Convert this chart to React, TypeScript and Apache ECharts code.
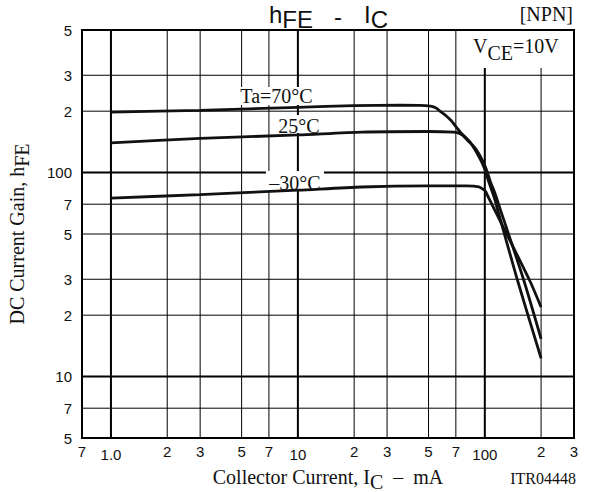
import React, { useEffect, useRef } from 'react';
import * as echarts from 'echarts';

// Axis ticks and labels
const xTicks = [0.7, 1, 2, 3, 5, 7, 10, 20, 30, 50, 70, 100, 200, 300];
const xTickLabels = ['7', '1.0', '2', '3', '5', '7', '10', '2', '3', '5', '7', '100', '2', '3'];
const xMajor = [1, 10, 100];
const yTicks = [5, 7, 10, 20, 30, 50, 70, 100, 200, 300, 500];
const yTickLabels = ['5', '7', '10', '2', '3', '5', '7', '100', '2', '3', '5'];
const yMajor = [10, 100];

// Ta = 70°C
const ic70 = [1, 3, 10, 20, 35, 48, 52, 55, 58, 62, 66, 74, 84, 91, 97, 101, 105, 112, 117, 149, 200];
const hfe70 = [198, 202, 209, 213, 214, 213, 211, 207, 199, 190, 180, 158, 140, 124, 111, 101, 90, 76, 66, 30, 12.3];
// Ta = 25°C
const ic25 = [1, 3, 10, 22, 50, 68, 72, 76, 80.5, 89, 97, 103, 107, 114, 121, 161, 200];
const hfe25 = [140, 147, 153, 158, 159, 158, 156.5, 152.5, 144.5, 131.5, 115, 101, 90.5, 78, 66, 30, 15.3];
// Ta = -30°C
const icM30 = [1, 3, 10, 22, 50, 80, 93, 99, 101, 105, 109.5, 174, 200];
const hfeM30 = [75, 78, 82, 85, 86, 86, 85, 82.3, 80.8, 75, 69.5, 29.5, 21.9];

const SERIF = '"Liberation Serif", "Times New Roman", serif';
const SANS = '"Liberation Sans", Arial, sans-serif';

const X_MIN = 0.7;
const X_MAX = 300;
const Y_MIN = 5;
const Y_MAX = 500;

const same = (a: number, b: number) => Math.abs(Math.log10(a) - Math.log10(b)) < 1e-6;

export default function App() {
  const ref = useRef<HTMLDivElement>(null);
  useEffect(() => {
    if (!ref.current) return;
    const chart = echarts.init(ref.current, undefined, { renderer: 'svg' });

    const curve = (xs: number[], ys: number[], name: string) => ({
      type: 'line',
      name,
      data: xs.map((x, i) => [x, ys[i]]),
      showSymbol: false,
      symbol: 'none',
      smooth: 0.25,
      z: 10,
      lineStyle: { color: '#111', width: 2.8 },
    });

    const sub = (pad: number, size: number, family: string) => ({
      fontFamily: family,
      fontSize: size,
      color: '#111',
      padding: [pad, 0, 0, 0],
    });

    // grid lines, one small line series per tick value
    const gridLine = (pts: number[][], major: boolean) => ({
      type: 'line',
      data: pts,
      showSymbol: false,
      symbol: 'none',
      silent: true,
      z: 2,
      lineStyle: { color: '#000', width: major ? 2 : 1, type: 'solid' },
      emphasis: { disabled: true },
    });
    const gridSeries: any[] = [];
    xTicks.slice(1, -1).forEach((v) => {
      gridSeries.push(gridLine([[v, Y_MIN], [v, Y_MAX]], xMajor.some((m) => same(m, v))));
    });
    yTicks.slice(1, -1).forEach((v) => {
      gridSeries.push(gridLine([[X_MIN, v], [X_MAX, v]], yMajor.some((m) => same(m, v))));
    });

    chart.setOption({
      animation: false,
      backgroundColor: '#fff',
      grid: {
        left: 82,
        top: 30,
        width: 492,
        height: 408,
        outerBoundsMode: 'none',
        containLabel: false,
        show: true,
        borderColor: '#000',
        borderWidth: 2,
        backgroundColor: 'rgba(255,255,255,0)',
      },
      xAxis: {
        type: 'log',
        logBase: 10,
        min: X_MIN,
        max: X_MAX,
        splitLine: { show: false },
        axisTick: { show: false },
        axisLine: { show: false },
        axisLabel: {
          customValues: xTicks,
          margin: 6,
          fontFamily: SANS,
          fontSize: 15,
          color: '#111',
          formatter: (v: number) => {
            const i = xTicks.findIndex((t) => same(t, v));
            if (i < 0) return '';
            const lab = xTickLabels[i];
            return xMajor.some((m) => same(m, v)) ? `{d|${lab}}` : lab;
          },
          rich: {
            d: { fontFamily: SANS, fontSize: 15, color: '#111', padding: [3, 0, 0, 0] },
          },
        },
        name: 'Collector Current, I{s|C}  –  mA',
        nameLocation: 'middle',
        nameGap: 17,
        nameTextStyle: {
          fontFamily: SERIF,
          fontSize: 20,
          color: '#111',
          rich: { s: sub(10, 20, SERIF) },
        },
      },
      yAxis: {
        type: 'log',
        logBase: 10,
        min: Y_MIN,
        max: Y_MAX,
        splitLine: { show: false },
        axisTick: { show: false },
        axisLine: { show: false },
        axisLabel: {
          customValues: yTicks,
          margin: 10,
          fontFamily: SANS,
          fontSize: 15,
          color: '#111',
          formatter: (v: number) => {
            const i = yTicks.findIndex((t) => same(t, v));
            return i < 0 ? '' : yTickLabels[i];
          },
        },
        name: 'DC Current Gain, h{s|FE}',
        nameLocation: 'middle',
        nameGap: 50,
        nameTextStyle: {
          fontFamily: SERIF,
          fontSize: 20,
          color: '#111',
          rich: { s: sub(10, 20, SERIF) },
        },
      },
      series: [
        ...gridSeries,
        curve(ic70, hfe70, '70'),
        curve(ic25, hfe25, '25'),
        curve(icM30, hfeM30, '-30'),
      ],
      graphic: {
        elements: [
          // white boxes behind labels
          { type: 'rect', z: 5, shape: { x: 236, y: 87, width: 82, height: 18 }, style: { fill: '#fff' } },
          { type: 'rect', z: 5, shape: { x: 275, y: 115, width: 48, height: 18 }, style: { fill: '#fff' } },
          { type: 'rect', z: 5, shape: { x: 266, y: 171, width: 58, height: 19 }, style: { fill: '#fff' } },
          { type: 'rect', z: 5, shape: { x: 468, y: 31, width: 105, height: 37 }, style: { fill: '#fff' } },
          // curve labels
          {
            type: 'text', z: 6, x: 276.5, y: 96,
            style: { text: 'Ta=70°C', font: `20px ${SERIF}`, fill: '#111', textAlign: 'center', textVerticalAlign: 'middle' },
          },
          {
            type: 'text', z: 6, x: 299, y: 126,
            style: { text: '25°C', font: `20px ${SERIF}`, fill: '#111', textAlign: 'center', textVerticalAlign: 'middle' },
          },
          {
            type: 'text', z: 6, x: 295, y: 183,
            style: { text: '–30°C', font: `20px ${SERIF}`, fill: '#111', textAlign: 'center', textVerticalAlign: 'middle' },
          },
          // VCE
          {
            type: 'text', z: 6, x: 473, y: 46,
            style: {
              text: 'V{s|CE}=10V',
              font: `20px ${SERIF}`,
              fill: '#111',
              textAlign: 'left',
              textVerticalAlign: 'middle',
              rich: { s: { font: `20px ${SERIF}`, fill: '#111', padding: [13, 0, 0, 0] } },
            },
          },
          // title
          {
            type: 'text', z: 6, x: 269, y: 14,
            style: {
              text: 'h{s|FE}',
              font: `24px ${SANS}`,
              fill: '#111',
              textAlign: 'left',
              textVerticalAlign: 'middle',
              rich: { s: { font: `24px ${SANS}`, fill: '#111', padding: [10, 0, 0, 0] } },
            },
          },
          {
            type: 'text', z: 6, x: 338, y: 16,
            style: { text: '-', font: `24px ${SANS}`, fill: '#111', textAlign: 'center', textVerticalAlign: 'middle' },
          },
          {
            type: 'text', z: 6, x: 364, y: 14,
            style: {
              text: 'I{s|C}',
              font: `24px ${SANS}`,
              fill: '#111',
              textAlign: 'left',
              textVerticalAlign: 'middle',
              rich: { s: { font: `24px ${SANS}`, fill: '#111', padding: [10, 0, 0, 0] } },
            },
          },
          {
            type: 'text', z: 6, x: 573, y: 14,
            style: { text: '[NPN]', font: `20px ${SERIF}`, fill: '#111', textAlign: 'right', textVerticalAlign: 'middle' },
          },
          {
            type: 'text', z: 6, x: 576, y: 478,
            style: { text: 'ITR04448', font: `16px ${SERIF}`, fill: '#111', textAlign: 'right', textVerticalAlign: 'middle' },
          },
        ],
      },
    });

    return () => chart.dispose();
  }, []);

  return (
    <div
      ref={ref}
      style={{ position: 'absolute', left: 0, top: 0, width: 601, height: 492, background: '#fff' }}
    />
  );
}
